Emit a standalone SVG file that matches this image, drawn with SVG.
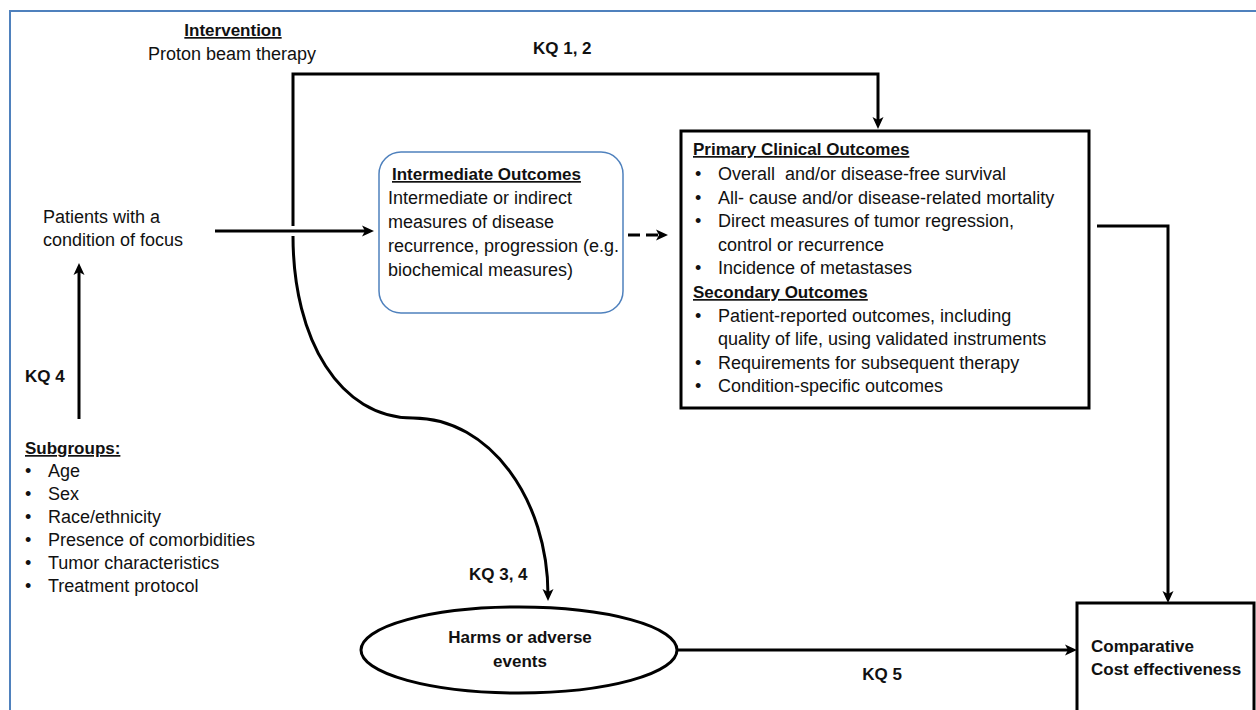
<svg xmlns="http://www.w3.org/2000/svg" width="1256" height="710" viewBox="0 0 1256 710">
<defs>
<style>
text{font-family:"Liberation Sans",Arial,sans-serif;font-size:18px;fill:#111;}
.b{font-weight:bold;font-size:17px;}
.u{text-decoration:underline;}
.c{text-anchor:middle;}
.pre{white-space:pre;}
.ln{fill:none;stroke:#000;stroke-width:3;}
</style>
<marker id="ah" markerUnits="userSpaceOnUse" markerWidth="14" markerHeight="12" refX="6" refY="6" orient="auto">
<path d="M0,0.5 L12,6 L0,11.5 L3,6 z" fill="#000"/>
</marker>
</defs>
<rect x="0" y="0" width="1256" height="710" fill="#fff"/>
<rect x="10" y="11" width="1260" height="720" fill="none" stroke="#4f81bd" stroke-width="2"/>

<g id="connectors">
<path class="ln" d="M293,226 L293,74 L878,74 L878,123" marker-end="url(#ah)"/>
<path class="ln" d="M215,231 L368,231" marker-end="url(#ah)"/>
<path class="ln" d="M293,236 C293,340 340,418 413,418 C490,418 548,500 548,595" marker-end="url(#ah)"/>
<path class="ln" d="M628,235 L662,235" stroke-dasharray="12,6" marker-end="url(#ah)"/>
<path class="ln" d="M1097,226 L1168,226 L1168,597" marker-end="url(#ah)"/>
<path class="ln" d="M677,650 L1071,650" marker-end="url(#ah)"/>
<path class="ln" d="M79,419 L79,269" marker-end="url(#ah)"/>
<text class="b" x="533" y="54">KQ 1, 2</text>
<text class="b" x="469" y="580">KQ 3, 4</text>
<text class="b" x="25" y="382">KQ 4</text>
<text class="b c" x="882" y="680">KQ 5</text>
</g>

<g id="intervention">
<text class="b u c" x="233" y="36">Intervention</text>
<text x="148" y="60">Proton beam therapy</text>
</g>

<g id="patients">
<text x="43" y="223">Patients with a</text>
<text x="43" y="246">condition of focus</text>
</g>

<g id="intermediate">
<rect x="379" y="152" width="244" height="161" rx="22" ry="22" fill="#fff" stroke="#4f81bd" stroke-width="1.5"/>
<text class="b u" x="392" y="180">Intermediate Outcomes</text>
<text x="388" y="204">Intermediate or indirect</text>
<text x="388" y="228">measures of disease</text>
<text x="388" y="252">recurrence, progression (e.g.</text>
<text x="388" y="276">biochemical measures)</text>
</g>

<g id="primary">
<rect x="681" y="131" width="408" height="277" fill="#fff" stroke="#000" stroke-width="3"/>
<text class="b u" x="693" y="155">Primary Clinical Outcomes</text>
<text x="695" y="180">•</text><text class="pre" x="718" y="180">Overall  and/or disease-free survival</text>
<text x="695" y="203.5">•</text><text x="718" y="203.5">All- cause and/or disease-related mortality</text>
<text x="695" y="227">•</text><text x="718" y="227">Direct measures of tumor regression,</text>
<text x="718" y="250.5">control or recurrence</text>
<text x="695" y="274">•</text><text x="718" y="274">Incidence of metastases</text>
<text class="b u" x="693" y="298">Secondary Outcomes</text>
<text x="695" y="321.5">•</text><text x="718" y="321.5">Patient-reported outcomes, including</text>
<text x="718" y="345">quality of life, using validated instruments</text>
<text x="695" y="368.5">•</text><text x="718" y="368.5">Requirements for subsequent therapy</text>
<text x="695" y="392">•</text><text x="718" y="392">Condition-specific outcomes</text>
</g>

<g id="subgroups">
<text class="b u" x="25" y="454">Subgroups:</text>
<text x="25" y="477">•</text><text x="48" y="477">Age</text>
<text x="25" y="500">•</text><text x="48" y="500">Sex</text>
<text x="25" y="523">•</text><text x="48" y="523">Race/ethnicity</text>
<text x="25" y="546">•</text><text x="48" y="546">Presence of comorbidities</text>
<text x="25" y="569">•</text><text x="48" y="569">Tumor characteristics</text>
<text x="25" y="592">•</text><text x="48" y="592">Treatment protocol</text>
</g>

<g id="harms">
<ellipse cx="519" cy="650" rx="158" ry="43" fill="#fff" stroke="#000" stroke-width="3"/>
<text class="b c" x="520" y="643">Harms or adverse</text>
<text class="b c" x="520" y="667">events</text>
</g>

<g id="cost">
<rect x="1077" y="603" width="177" height="130" fill="#fff" stroke="#000" stroke-width="3"/>
<text class="b" x="1091" y="652">Comparative</text>
<text class="b" x="1091" y="675">Cost effectiveness</text>
</g>
</svg>
